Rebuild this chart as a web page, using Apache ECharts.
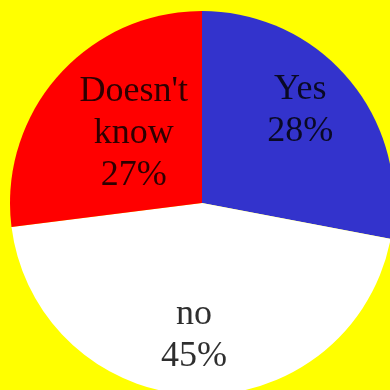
<!DOCTYPE html>
<html>
<head>
<meta charset="utf-8">
<style>
  html, body { margin: 0; padding: 0; background: #ffff00; }
  #chart { width: 390px; height: 390px; }
</style>
<script src="https://cdn.jsdelivr.net/npm/echarts@6/dist/echarts.min.js"></script>
</head>
<body>
<div id="chart"></div>
<script>
// Survey answers, drawn clockwise from 12 o'clock
const categories = ['Yes', 'no', "Doesn't\nknow"];
const shares = [28, 45, 27];
const sliceColors = ['#3333cc', '#ffffff', '#ff0000'];
// Nudges of each label away from the slice's mid-radius point
const labelOffsets = [[22, -29], [-5, 34], [6, -4]];

const chart = echarts.init(document.getElementById('chart'), null, { renderer: 'canvas' });

chart.setOption({
  backgroundColor: '#ffff00',
  animation: false,
  series: [{
    type: 'pie',
    center: [202, 203],
    radius: [0, 192],
    startAngle: 90,
    clockwise: true,
    avoidLabelOverlap: false,
    itemStyle: { borderWidth: 0 },
    label: {
      show: true,
      position: 'inside',
      formatter: p => p.name + '\n' + p.value + '%',
      fontFamily: '"Liberation Serif", "DejaVu Serif", serif',
      fontSize: 36,
      lineHeight: 42,
      color: 'rgba(0,0,0,0.82)',
      align: 'center',
      verticalAlign: 'middle'
    },
    labelLine: { show: false },
    emphasis: { disabled: true },
    data: categories.map((name, i) => ({
      name: name,
      value: shares[i],
      itemStyle: { color: sliceColors[i] },
      label: { offset: labelOffsets[i] }
    }))
  }]
});
</script>
</body>
</html>
